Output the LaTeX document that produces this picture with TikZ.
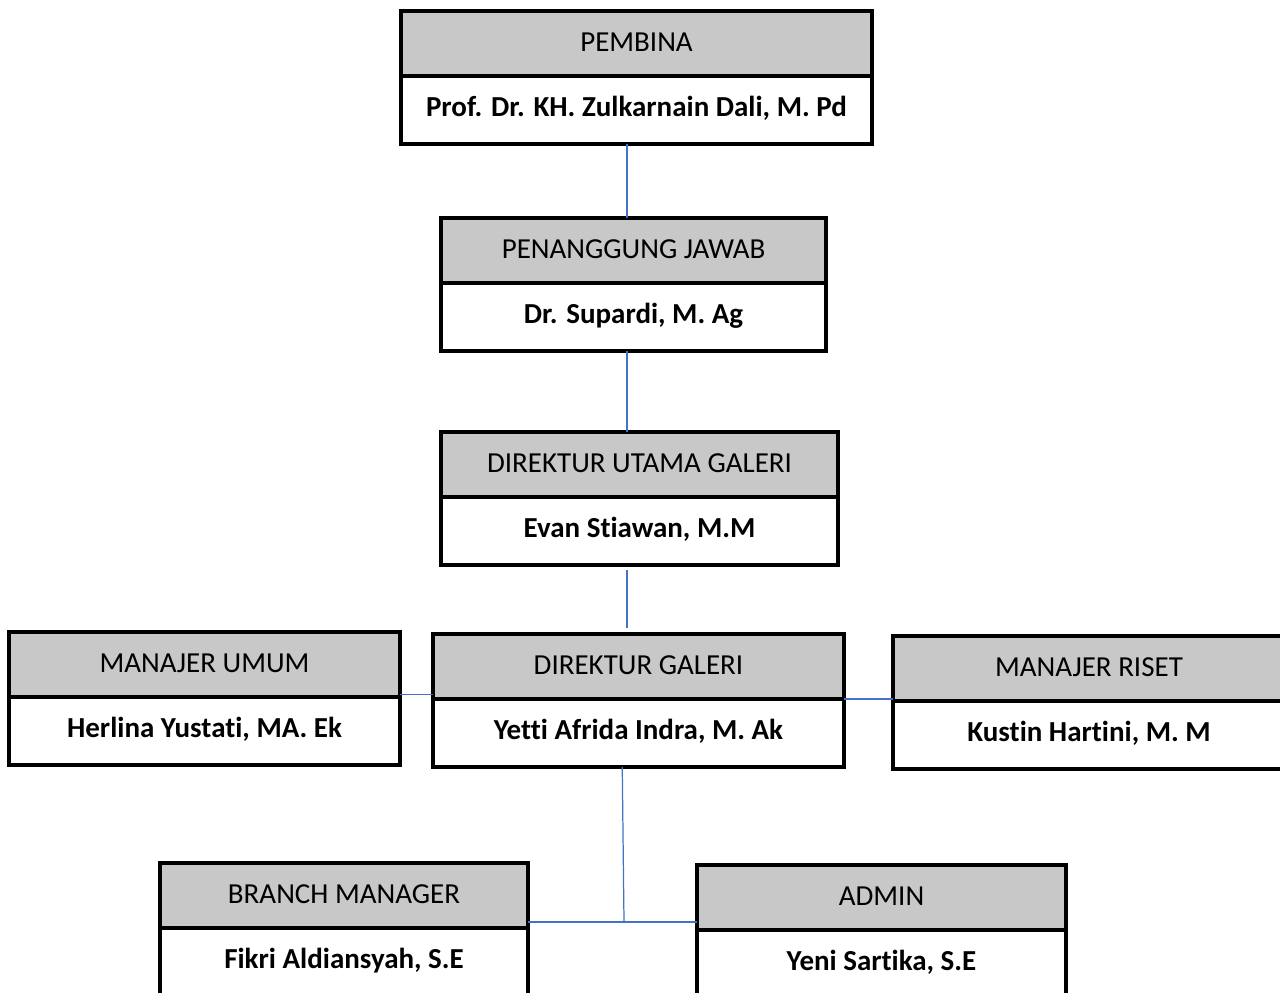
\documentclass[tikz,border=0pt]{standalone}
\usepackage{fontspec}
\setmainfont{Carlito}[Ligatures=NoCommon]
\usetikzlibrary{positioning}

\definecolor{abu}{RGB}{200,200,200}
\definecolor{biru}{RGB}{68,114,196}

\tikzset{
  jabatan/.style={draw, fill=abu, line width=1.9pt, outer sep=0pt, inner sep=0pt,
    minimum height=1.3cm, text height=11pt, text depth=2pt,
    font=\fontsize{16.5}{19}\selectfont},
  nama/.style={draw, fill=white, line width=1.9pt, outer sep=0pt, inner sep=0pt,
    minimum height=1.36cm, text height=11pt, text depth=3.8pt,
    font=\fontsize{16.5}{19}\selectfont\bfseries},
  garis/.style={biru, line width=0.7pt}
}

\begin{document}
\begin{tikzpicture}[x=0.02cm,y=-0.02cm]
\useasboundingbox (0,0) rectangle (1280,992);
\coordinate (poros) at (627,0);
\coordinate (simpang) at (624,922);

% pembina
\node[jabatan, minimum width=9.42cm, anchor=north] (jab1) at (636.5,11) {PEMBINA};
\node[nama, minimum width=9.42cm, below=0pt of jab1] (nama1) {Prof. Dr. KH. Zulkarnain Dali, M. Pd};
% penanggung jawab
\node[jabatan, minimum width=7.7cm, anchor=north] (jab2) at (633.5,218) {PENANGGUNG JAWAB};
\node[nama, minimum width=7.7cm, below=0pt of jab2] (nama2) {Dr. Supardi, M. Ag};
% direktur utama
\node[jabatan, minimum width=7.94cm, anchor=north] (jab3) at (639.5,432) {DIREKTUR UTAMA GALERI};
\node[nama, minimum width=7.94cm, below=0pt of jab3] (nama3) {Evan Stiawan, M.M};
% baris tengah
\node[jabatan, minimum width=7.82cm, anchor=north] (jab4) at (204.5,632) {MANAJER UMUM};
\node[nama, minimum width=7.82cm, below=0pt of jab4] (nama4) {Herlina Yustati, MA. Ek};
\node[jabatan, minimum width=8.22cm, anchor=north] (jab5) at (638.5,634) {DIREKTUR GALERI};
\node[nama, minimum width=8.22cm, below=0pt of jab5] (nama5) {Yetti Afrida Indra, M. Ak};
\node[jabatan, minimum width=7.84cm, anchor=north] (jab6) at (1089,636) {MANAJER RISET};
\node[nama, minimum width=7.84cm, below=0pt of jab6] (nama6) {Kustin Hartini, M. M};
% baris bawah
\node[jabatan, minimum width=7.36cm, anchor=north] (jab7) at (344,863) {BRANCH MANAGER};
\node[nama, minimum width=7.36cm, below=0pt of jab7] (nama7) {Fikri Aldiansyah, S.E};
\node[jabatan, minimum width=7.38cm, anchor=north] (jab8) at (881.5,865) {ADMIN};
\node[nama, minimum width=7.38cm, below=0pt of jab8] (nama8) {Yeni Sartika, S.E};

% garis
\draw[garis] (nama1.south -| poros) -- (jab2.north -| poros);
\draw[garis] (nama2.south -| poros) -- (jab3.north -| poros);
\draw[garis, shorten <=3pt, shorten >=3.5pt] (nama3.south -| poros) -- (jab5.north -| poros);
\draw[garis] ([yshift=1.5pt]jab4.south east) -- ([yshift=1.5pt]jab4.south east -| jab5.west);
\draw[garis] (jab5.south east) -- (jab5.south east -| jab6.west);
\draw[garis] ([xshift=-1pt]nama5.south -| simpang) -- (simpang);
\draw[garis] (simpang -| jab7.east) -- (simpang -| jab8.west);
\end{tikzpicture}
\end{document}
